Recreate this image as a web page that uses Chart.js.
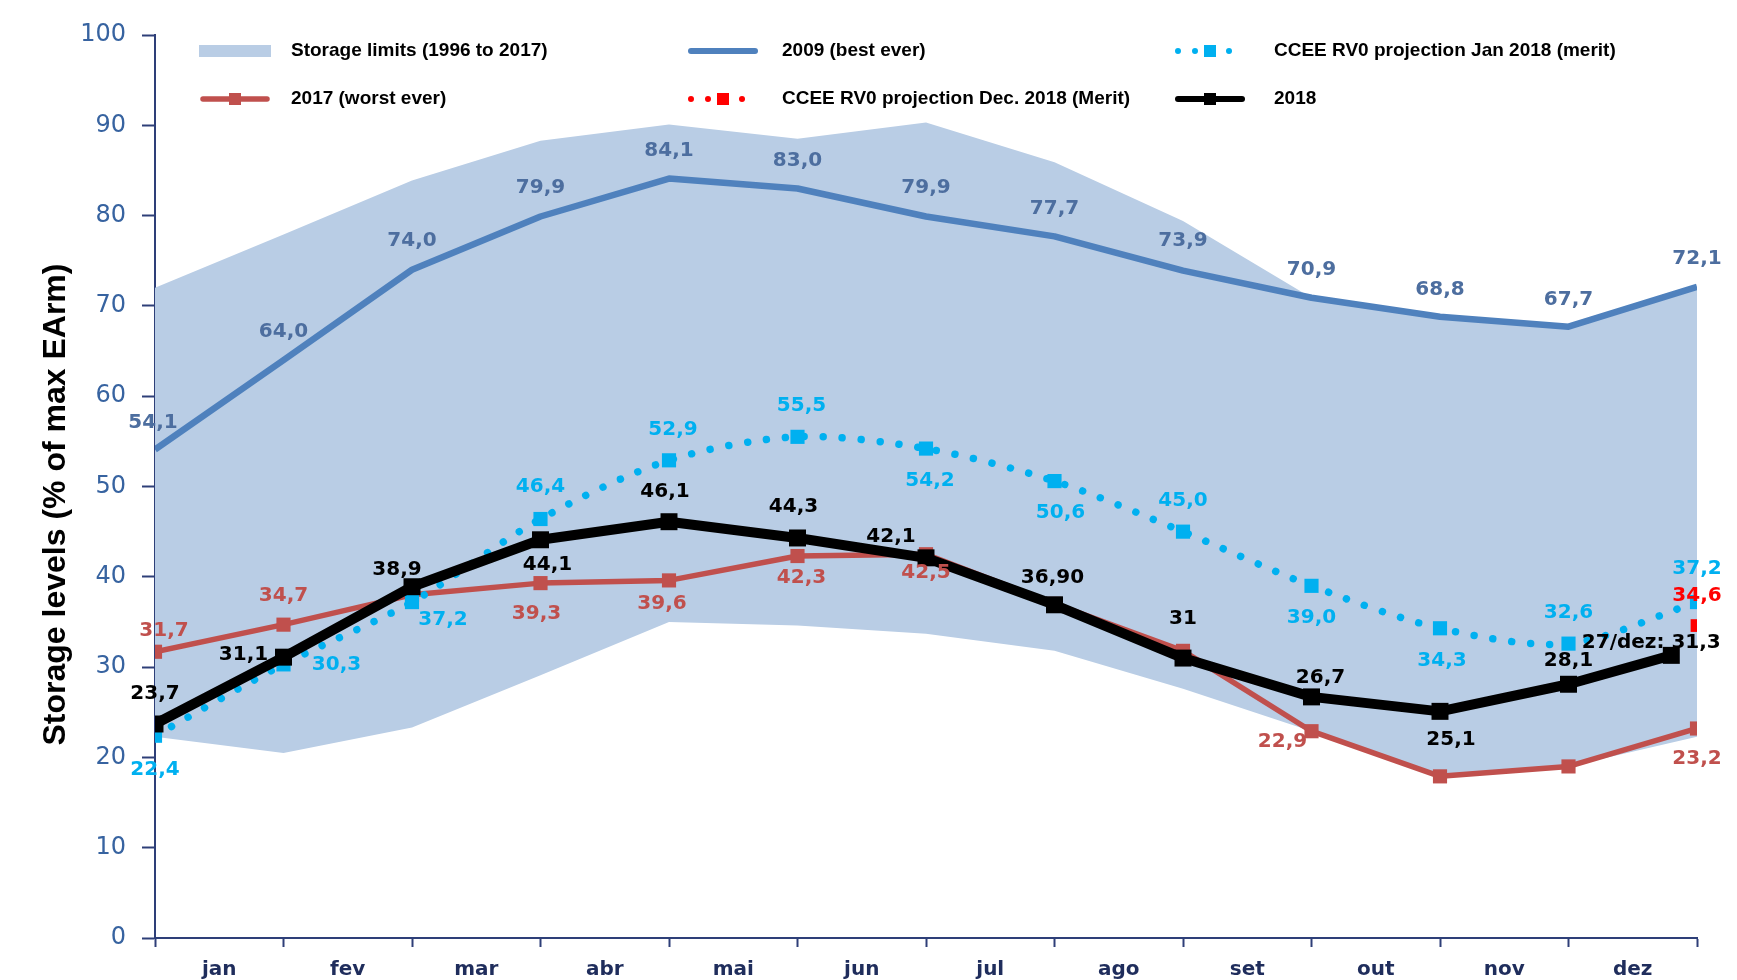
<!DOCTYPE html>
<html>
<head>
<meta charset="utf-8">
<script src="https://cdn.jsdelivr.net/npm/chart.js@4.4.1/dist/chart.umd.min.js"></script>
<style>
  html, body { margin: 0; padding: 0; background: #fff; }
  #wrap { width: 1737px; height: 980px; position: relative; }
</style>
</head>
<body>
<div id="wrap"><canvas id="storageChart"></canvas></div>
<script>
// month names sit between the ticks; points sit on month boundaries (0 = start of jan, 12 = end of dez)
const months = ['jan', 'fev', 'mar', 'abr', 'mai', 'jun', 'jul', 'ago', 'set', 'out', 'nov', 'dez'];
const boundaries = [0, 1, 2, 3, 4, 5, 6, 7, 8, 9, 10, 11, 12];

const limitsUpper = [72.0, 77.9, 83.9, 88.3, 90.1, 88.5, 90.3, 85.9, 79.4, 70.9, 68.8, 67.7, 72.1];
const limitsLower = [22.3, 20.5, 23.3, 29.1, 35.0, 34.6, 33.7, 31.8, 27.6, 22.9, 17.9, 19.0, 22.3];
const best2009 = [54.1, 64.0, 74.0, 79.9, 84.1, 83.0, 79.9, 77.7, 73.9, 70.9, 68.8, 67.7, 72.1];
const worst2017 = [31.7, 34.7, 38.0, 39.3, 39.6, 42.3, 42.5, 37.0, 31.8, 22.9, 17.9, 19.0, 23.2];
const projJan2018 = [22.4, 30.3, 37.2, 46.4, 52.9, 55.5, 54.2, 50.6, 45.0, 39.0, 34.3, 32.6, 37.2];
const projDec2018 = [null, null, null, null, null, null, null, null, null, null, null, null, 34.6];
const actual2018 = [23.7, 31.1, 38.9, 44.1, 46.1, 44.3, 42.1, 36.9, 31.0, 26.7, 25.1, 28.1, 31.3];
const actual2018X = [0, 1, 2, 3, 4, 5, 6, 7, 8, 9, 10, 11, 11.8]; // last reading is 27/dez
const actual2018Text = ['23,7', '31,1', '38,9', '44,1', '46,1', '44,3', '42,1', '36,90', '31', '26,7', '25,1', '28,1', '27/dez: 31,3'];
const yTicks = [0, 10, 20, 30, 40, 50, 60, 70, 80, 90, 100];
const yTitle = 'Storage levels (% of max EArm)';

const navy = '#2E3F78';

function pts(xs, ys) {
    return ys.map((y, i) => ({ x: xs[i], y: y }));
}

function fmt(v) {
    return v.toFixed(1).replace('.', ',');
}

// value labels next to the points
const pointLabels = {
    id: 'pointLabels',
    afterDatasetsDraw(chart) {
        const ctx = chart.ctx;
        ctx.save();
        ctx.font = 'bold 20px "DejaVu Sans"';
        ctx.textAlign = 'center';
        ctx.textBaseline = 'middle';
        chart.data.datasets.forEach((ds, di) => {
            if (!ds.labelOffsets) return;
            const meta = chart.getDatasetMeta(di);
            ctx.fillStyle = ds.labelColor;
            meta.data.forEach((el, i) => {
                const off = ds.labelOffsets[i];
                if (!off || ds.data[i].y == null) return;
                const text = ds.labelText ? ds.labelText[i] : fmt(ds.data[i].y);
                ctx.fillText(text, el.x + off[0], el.y + off[1]);
            });
        });
        ctx.restore();
    }
};

// rotated y axis title, a little below the middle of the axis as in the original
const axisTitle = {
    id: 'axisTitle',
    afterDraw(chart) {
        const ctx = chart.ctx;
        const area = chart.chartArea;
        ctx.save();
        ctx.translate(56, (area.top + area.bottom) / 2 + 18);
        ctx.rotate(-Math.PI / 2);
        ctx.font = 'bold 32px "Liberation Sans"';
        ctx.fillStyle = '#000';
        ctx.textAlign = 'center';
        ctx.textBaseline = 'middle';
        ctx.fillText(yTitle, 0, 0);
        ctx.restore();
    }
};

// legend in two rows, three columns inside the plot
const boxLegend = {
    id: 'boxLegend',
    afterDraw(chart) {
        const ctx = chart.ctx;
        const colSym = [199, 687, 1174];
        const colText = [291, 782, 1274];
        const rowY = [51, 99];
        ctx.save();
        chart.data.datasets.forEach(ds => {
            if (!ds.legendSlot) return;
            const [c, r] = ds.legendSlot;
            const x0 = colSym[c], x1 = x0 + 72, y = rowY[r];
            if (ds.fill) {
                ctx.fillStyle = ds.backgroundColor;
                ctx.fillRect(x0, y - 6, x1 - x0, 12);
            } else {
                ctx.strokeStyle = ds.borderColor;
                ctx.lineWidth = Math.min(ds.borderWidth, 6);
                ctx.lineCap = 'round';
                ctx.setLineDash(ds.borderDash ? [0.001, 17] : []);
                ctx.beginPath();
                ctx.moveTo(x0 + 4, y);
                ctx.lineTo(x1 - 4, y);
                ctx.stroke();
                ctx.setLineDash([]);
                if (ds.pointRadius > 0) {
                    ctx.fillStyle = ds.borderColor;
                    ctx.fillRect((x0 + x1) / 2 - 6, y - 6, 12, 12);
                }
            }
            ctx.fillStyle = '#000';
            ctx.font = 'bold 19px "Liberation Sans"';
            ctx.textAlign = 'left';
            ctx.textBaseline = 'middle';
            ctx.fillText(ds.label, colText[c], y);
        });
        ctx.restore();
    }
};

const ctx = document.getElementById('storageChart').getContext('2d');
new Chart(ctx, {
    type: 'line',
    data: {
        datasets: [
            {
                label: 'Storage limits (1996 to 2017)',
                data: pts(boundaries, limitsUpper),
                fill: '+1',
                backgroundColor: '#B9CDE5',
                borderWidth: 0,
                pointRadius: 0,
                order: 6,
                legendSlot: [0, 0]
            },
            {
                label: 'lower limit',
                data: pts(boundaries, limitsLower),
                borderWidth: 0,
                pointRadius: 0,
                order: 7
            },
            {
                label: '2009 (best ever)',
                data: pts(boundaries, best2009),
                borderColor: '#4F81BD',
                borderWidth: 6.5,
                pointRadius: 0,
                order: 5,
                legendSlot: [1, 0],
                labelColor: '#4D6E9F',
                labelOffsets: [[-2, -27], [0, -28], [0, -29], [0, -29], [0, -28], [0, -28], [0, -29], [0, -28], [0, -30], [0, -28], [0, -27], [0, -27], [0, -28]]
            },
            {
                label: '2017 (worst ever)',
                data: pts(boundaries, worst2017),
                borderColor: '#C0504D',
                backgroundColor: '#C0504D',
                borderWidth: 5.5,
                pointStyle: 'rect',
                pointRadius: 10,
                pointBorderWidth: 0,
                order: 4,
                legendSlot: [0, 1],
                labelColor: '#C0504D',
                labelOffsets: [[9, -21], [0, -29], null, [-4, 31], [-7, 23], [4, 22], [0, 19], null, null, [-29, 11], null, null, [0, 30]]
            },
            {
                label: 'CCEE RV0 projection Jan 2018 (merit)',
                data: pts(boundaries, projJan2018),
                borderColor: '#00B0F0',
                backgroundColor: '#00B0F0',
                borderWidth: 7.5,
                borderDash: [0.001, 19],
                borderCapStyle: 'round',
                tension: 0.3,
                pointStyle: 'rect',
                pointRadius: 10,
                pointBorderWidth: 0,
                order: 3,
                legendSlot: [2, 0],
                labelColor: '#00B0F0',
                labelOffsets: [[0, 34], [53, 0], [31, 18], [0, -32], [4, -31], [4, -31], [4, 32], [6, 32], [0, -31], [0, 32], [2, 33], [0, -31], [0, -33]]
            },
            {
                label: 'CCEE RV0 projection Dec. 2018 (Merit)',
                data: pts(boundaries, projDec2018),
                borderColor: '#FF0000',
                backgroundColor: '#FF0000',
                borderWidth: 7,
                borderDash: [0.001, 19],
                pointStyle: 'rect',
                pointRadius: 9,
                pointBorderWidth: 0,
                order: 2,
                legendSlot: [1, 1],
                labelColor: '#FF0000',
                labelOffsets: [null, null, null, null, null, null, null, null, null, null, null, null, [0, -30]]
            },
            {
                label: '2018',
                data: pts(actual2018X, actual2018),
                borderColor: '#000000',
                backgroundColor: '#000000',
                borderWidth: 10,
                pointStyle: 'rect',
                pointRadius: 12,
                pointBorderWidth: 0,
                order: 1,
                legendSlot: [2, 1],
                labelColor: '#000000',
                labelText: actual2018Text,
                labelOffsets: [[0, -30], [-40, -2], [-15, -17], [7, 25], [-4, -30], [-4, -31], [-35, -21], [-2, -27], [0, -39], [9, -19], [11, 28], [0, -23], [-20, -13]]
            }
        ]
    },
    options: {
        responsive: true,
        maintainAspectRatio: false,
        animation: false,
        layout: { padding: { top: 35, right: 40, left: 0, bottom: 0 } },
        elements: { line: { borderJoinStyle: 'round' } },
        plugins: {
            legend: { display: false },
            tooltip: { enabled: false }
        },
        scales: {
            x: {
                type: 'linear',
                min: 0,
                max: 12,
                ticks: {
                    stepSize: 0.5,
                    maxTicksLimit: 30,
                    autoSkip: false,
                    maxRotation: 0,
                    padding: 11,
                    color: '#1F2D5C',
                    font: { family: 'DejaVu Sans', size: 20, weight: 'bold' },
                    callback: v => (v % 1 === 0.5 ? months[Math.floor(v)] : '')
                },
                grid: {
                    drawOnChartArea: false,
                    tickLength: 9,
                    tickWidth: 2,
                    tickColor: c => (c.tick && Number.isInteger(c.tick.value) ? navy : 'rgba(0,0,0,0)')
                },
                border: { color: navy, width: 2 },
                afterFit(scale) { scale.height = 42; }
            },
            y: {
                min: 0,
                max: 100,
                afterBuildTicks(scale) { scale.ticks = yTicks.map(v => ({ value: v })); },
                ticks: {
                    padding: 16,
                    color: '#3763A0',
                    font: { family: 'DejaVu Sans', size: 24 }
                },
                grid: {
                    drawOnChartArea: false,
                    tickLength: 13,
                    tickWidth: 2,
                    tickColor: navy
                },
                border: { color: navy, width: 2 },
                afterFit(scale) { scale.width = 155; }
            }
        }
    },
    plugins: [pointLabels, axisTitle, boxLegend]
});
</script>
</body>
</html>
